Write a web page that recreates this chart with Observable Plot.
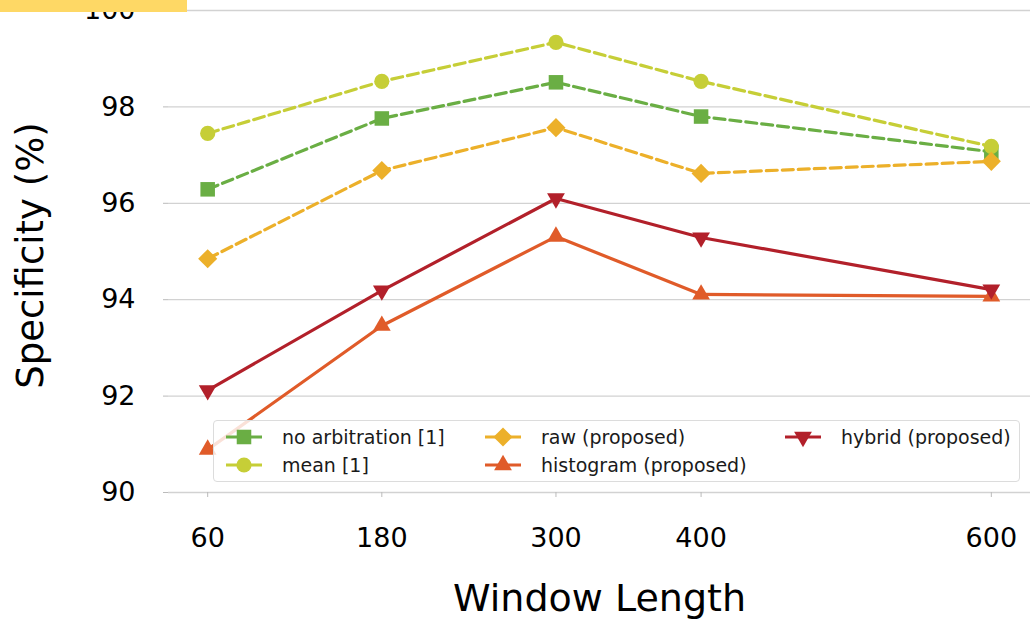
<!DOCTYPE html>
<html><head><meta charset="utf-8">
<script src="https://cdn.jsdelivr.net/npm/d3@7"></script>
<script src="https://cdn.jsdelivr.net/npm/@observablehq/plot@0.6"></script>
<style>
body{margin:0;background:#fff;font-family:"DejaVu Sans",sans-serif;}
#wrap{position:relative;width:1030px;height:620px;overflow:hidden;background:#fff;}
#wrap svg{display:block;}
#tab{position:absolute;left:0;top:0;width:187px;height:12px;background:#fed865;}
#legend{position:absolute;left:213px;top:420px;width:807px;height:62px;box-sizing:border-box;border:1px solid #dcdcdc;border-radius:4px;background:rgba(255,255,255,0.82);}
.li{position:absolute;height:26px;display:flex;align-items:center;font-size:19px;color:#1a1a1a;white-space:nowrap;}
.li svg{margin-right:20px;}
</style></head><body>
<div id="wrap"></div>
<script>
// Data
const windowLengths = [60, 180, 300, 400, 600];
const noArbitration = [96.29, 97.76, 98.51, 97.80, 97.07];
const meanArb = [97.45, 98.53, 99.34, 98.53, 97.18];
const rawProposed = [94.85, 96.68, 97.57, 96.62, 96.87];
const histogramProposed = [90.89, 93.46, 95.31, 94.11, 94.07];
const hybridProposed = [92.12, 94.19, 96.10, 95.29, 94.21];
const seriesNames = ["no arbitration [1]", "mean [1]", "raw (proposed)", "histogram (proposed)", "hybrid (proposed)"];
const yTicks = [90, 92, 94, 96, 98, 100];

const styles = [
  {values: noArbitration, color: "#6aae44", symbol: "square", r: 8.2, dash: "11,5", rotate: 0, d3sym: d3.symbolSquare},
  {values: meanArb, color: "#c6ce37", symbol: "circle", r: 7.6, dash: "11,5", rotate: 0, d3sym: d3.symbolCircle},
  {values: rawProposed, color: "#ecb02a", symbol: "diamond2", r: 8.6, dash: "11,5", rotate: 0, d3sym: d3.symbolDiamond2},
  {values: histogramProposed, color: "#e05b29", symbol: "triangle", r: 6.6, dash: null, rotate: 0, d3sym: d3.symbolTriangle},
  {values: hybridProposed, color: "#b2202a", symbol: "triangle", r: 6.6, dash: null, rotate: 180, d3sym: d3.symbolTriangle}
];

const series = styles.map((s, i) => ({...s, name: seriesNames[i],
  data: windowLengths.map((w, j) => ({x: w, y: s.values[j]}))}));

const marks = [
  Plot.gridY(yTicks, {stroke: "#d2d2d2", strokeOpacity: 1, strokeWidth: 1.3}),
  Plot.axisY({ticks: yTicks, tickSize: 5, tickPadding: 28, fontSize: 27, label: null, stroke: "#bbbbbb"}),
  Plot.axisX({ticks: windowLengths, tickSize: 5, tickPadding: 30, fontSize: 27, label: null, stroke: "#bbbbbb"}),
  Plot.text(["Window Length"], {frameAnchor: "bottom", dy: 106, fontSize: 38, lineAnchor: "middle", textAnchor: "middle", fill: "#000"}),
  Plot.text(["Specificity (%)"], {frameAnchor: "left", dx: -137, dy: 4, rotate: -90, fontSize: 37, lineAnchor: "middle", textAnchor: "middle", fill: "#000"})
];
for (const s of series) {
  marks.push(Plot.line(s.data, {x: "x", y: "y", stroke: s.color, strokeWidth: 3.2, strokeDasharray: s.dash || undefined}));
  marks.push(Plot.dot(s.data, {x: "x", y: "y", symbol: s.symbol, r: s.r, fill: s.color, stroke: "none", rotate: s.rotate}));
}

const chart = Plot.plot({
  width: 1030, height: 620,
  marginTop: 10, marginBottom: 128, marginLeft: 168, marginRight: 0,
  x: {type: "linear", domain: [33, 627]},
  y: {domain: [90, 100]},
  style: {fontFamily: "DejaVu Sans", color: "#000", background: "white", overflow: "visible"},
  marks
});
const wrap = document.getElementById("wrap");
wrap.appendChild(chart);

const tab = document.createElement("div");
tab.id = "tab";
wrap.appendChild(tab);

// Legend
const legend = d3.select(wrap).append("div").attr("id", "legend");
const pos = [
  {left: 12, top: 3}, {left: 12, top: 31},
  {left: 271, top: 3}, {left: 271, top: 31},
  {left: 571, top: 3}
];
series.forEach((s, i) => {
  const item = legend.append("div").attr("class", "li")
    .style("left", pos[i].left + "px").style("top", pos[i].top + "px");
  const svg = item.append("svg").attr("width", 36).attr("height", 26);
  svg.append("line").attr("x1", 0).attr("x2", 36).attr("y1", 13).attr("y2", 13)
    .attr("stroke", s.color).attr("stroke-width", 3);
  svg.append("path").attr("d", d3.symbol(s.d3sym, s.r * s.r * Math.PI)())
    .attr("transform", `translate(18,13) rotate(${s.rotate})`).attr("fill", s.color);
  item.append("span").text(s.name);
});
</script>
</body></html>
